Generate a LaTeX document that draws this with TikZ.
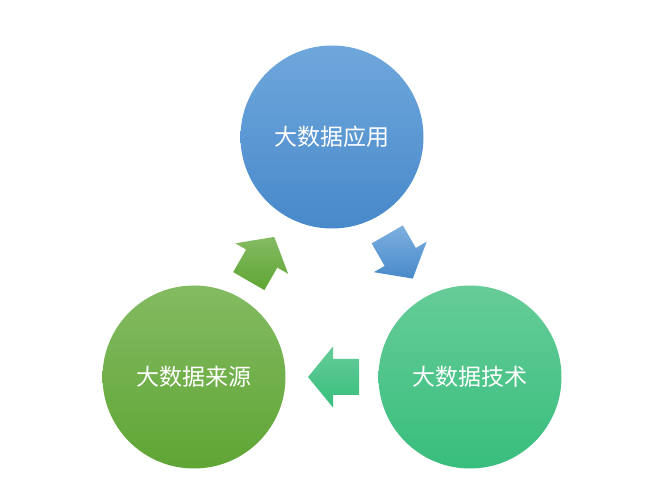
\documentclass[tikz,border=0pt]{standalone}
\usepackage{fontspec}
\newfontfamily\cjk{Noto Sans CJK SC}
\usetikzlibrary{calc}
\definecolor{apptop}{HTML}{6FA7DC}
\definecolor{appbot}{HTML}{4889CA}
\definecolor{techtop}{HTML}{66CC98}
\definecolor{techbot}{HTML}{38BE7D}
\definecolor{srctop}{HTML}{84BB62}
\definecolor{srcbot}{HTML}{5FA534}

% block arrow: #1 centre, #2 direction (y axis points down), #3 style
\newcommand\blockarr[3]{%
  \path[#3] ($(#1)+(#2:-25.5)+(#2+90:18)$) -- ($(#1)+(#2:0.5)+(#2+90:18)$)
    -- ($(#1)+(#2:0.5)+(#2+90:30.5)$) -- ($(#1)+(#2:25.5)$)
    -- ($(#1)+(#2:0.5)+(#2-90:30.5)$) -- ($(#1)+(#2:0.5)+(#2-90:18)$)
    -- ($(#1)+(#2:-25.5)+(#2-90:18)$) -- cycle;}

\begin{document}
\begin{tikzpicture}[
  x=1pt, y=-1pt,
  every node/.style={font=\cjk\fontsize{23pt}{23pt}\selectfont},
  ball/.style ={circle, minimum size=183pt, inner sep=0pt, text=white},
  app/.style  ={ball, top color=apptop,  bottom color=appbot},
  tech/.style ={ball, top color=techtop, bottom color=techbot},
  src/.style  ={ball, top color=srctop,  bottom color=srcbot}
]
\useasboundingbox[fill=white] (0,0) rectangle (667,494);

%% ─── circles ───────────────────────────────────────────────────────────────
\node[app]  (app)  at (332,137) {大数据应用};
\node[tech] (tech) at (470,377) {大数据技术};
\node[src]  (src)  at (194,377) {大数据来源};

%% ─── block arrows ──────────────────────────────────────────────────────────
\coordinate (a_at) at (400,256.5);
\coordinate (a_ts) at (333.5,377);
\coordinate (a_sa) at (261.5,259);

\blockarr{a_at}{60}{top color=apptop!90, bottom color=appbot}
\blockarr{a_ts}{180}{top color=techtop, bottom color=techbot}
\blockarr{a_sa}{-60}{top color=srctop, bottom color=srcbot}

\end{tikzpicture}
\end{document}
